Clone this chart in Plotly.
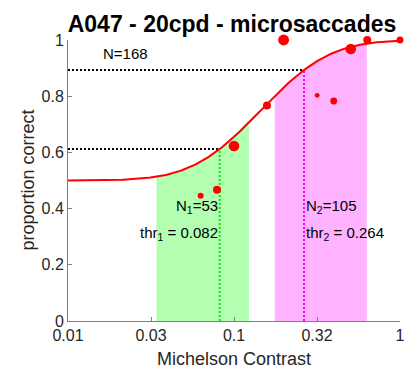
import math
import numpy as np
import plotly.graph_objects as go

# ---- data ----
contrast = [0.063, 0.079, 0.100, 0.158, 0.199, 0.317, 0.399, 0.505, 0.635, 1.0]
p_correct = [0.446, 0.467, 0.623, 0.767, 1.0, 0.803, 0.783, 0.968, 1.0, 1.0]
n_trials = [9, 16, 28, 16, 30, 6, 12, 28, 16, 12]

# fitted psychometric function (cumulative normal in log10 contrast, 2AFC)
fit_mu = -0.838
fit_sigma = 0.327

thresholds = [0.082, 0.264]
band1 = [0.0341, 0.123]
band2 = [0.176, 0.631]

title_text = "A047 - 20cpd - microsaccades"
xtick_vals = [0.01, 10 ** -1.5, 0.1, 10 ** -0.5, 1.0]
xtick_text = ["0.01", "0.03", "0.1", "0.32", "1"]
ytick_vals = [0, 0.2, 0.4, 0.6, 0.8, 1.0]
ytick_text = ["0", "0.2", "0.4", "0.6", "0.8", "1"]


def psy(x):
    z = (math.log10(x) - fit_mu) / fit_sigma
    return 0.5 + 0.5 * 0.5 * (1 + math.erf(z / math.sqrt(2)))


FONT = "Liberation Sans, Arial, sans-serif"

fig = go.Figure()


def band(lo, hi, color):
    xs = list(np.logspace(math.log10(lo), math.log10(hi), 60))
    ys = [psy(v) for v in xs]
    fig.add_trace(go.Scatter(
        x=xs + [hi, lo], y=ys + [0, 0], mode="lines", fill="toself",
        fillcolor=color, line=dict(width=0), hoverinfo="skip",
        showlegend=False))


band(band1[0], band1[1], "rgba(0,255,0,0.3)")
band(band2[0], band2[1], "rgba(255,0,255,0.3)")

# threshold guide lines
for thr, col in zip(thresholds, ["#00ee00", "#ff00ff"]):
    yv = psy(thr)
    fig.add_trace(go.Scatter(x=[0.01, thr], y=[yv, yv], mode="lines",
                             line=dict(color="black", width=2, dash="2px,2px"),
                             showlegend=False, hoverinfo="skip"))
    fig.add_trace(go.Scatter(x=[thr, thr], y=[0, yv], mode="lines",
                             line=dict(color=col, width=2, dash="2px,2px"),
                             showlegend=False, hoverinfo="skip"))

# fitted curve
xc = list(np.logspace(-2, 0, 300))
fig.add_trace(go.Scatter(x=xc, y=[psy(v) for v in xc], mode="lines",
                         line=dict(color="#ff0000", width=2),
                         showlegend=False, cliponaxis=False))

# data points
fig.add_trace(go.Scatter(
    x=contrast, y=p_correct, mode="markers",
    marker=dict(color="#ff0000", opacity=1,
                size=[2 * math.sqrt(n) for n in n_trials],
                line=dict(width=0)),
    showlegend=False, cliponaxis=False))

txt = dict(family=FONT, size=15, color="black")
ann = [
    dict(x=math.log10(0.0158), y=0.951, text="N=168", xanchor="left",
         yanchor="middle", showarrow=False, font=txt),
    dict(x=math.log10(thresholds[0]), y=0.407, text="N<sub>1</sub>=53",
         xanchor="right", yanchor="middle", showarrow=False, font=txt),
    dict(x=math.log10(thresholds[0]), y=0.311,
         text="thr<sub>1</sub> = 0.082", xanchor="right", yanchor="middle",
         showarrow=False, font=txt),
    dict(x=math.log10(thresholds[1]), y=0.407, text="N<sub>2</sub>=105",
         xanchor="left", yanchor="middle", showarrow=False, font=txt),
    dict(x=math.log10(thresholds[1]), y=0.311,
         text="thr<sub>2</sub> = 0.264", xanchor="left", yanchor="middle",
         showarrow=False, font=txt),
    dict(xref="paper", yref="paper", x=0.5, y=0, yshift=-38,
         text="Michelson Contrast", xanchor="center", yanchor="middle",
         showarrow=False, font=dict(family=FONT, size=18, color="#262626")),
    dict(xref="paper", yref="paper", x=0, y=0.5, xshift=-41,
         text="proportion correct", textangle=-90, xanchor="center",
         yanchor="middle", showarrow=False,
         font=dict(family=FONT, size=18, color="#262626")),
]

fig.update_layout(
    width=414, height=371,
    margin=dict(l=68, r=9, t=40, b=50),
    paper_bgcolor="white", plot_bgcolor="white",
    title=dict(text="<b>" + title_text + "</b>", x=232 / 414, xanchor="center",
               y=1 - 24 / 371, yanchor="middle", yref="container",
               font=dict(family=FONT, size=23, color="black")),
    annotations=ann,
    showlegend=False,
)
fig.update_xaxes(type="log", range=[-2, 0], tickvals=xtick_vals,
                 ticktext=xtick_text, ticks="inside", ticklen=4,
                 tickcolor="#808080", showline=True, linecolor="#808080",
                 linewidth=1, showgrid=False, zeroline=False,
                 tickfont=dict(family=FONT, size=16, color="#262626"))
fig.update_yaxes(range=[0, 1], tickvals=ytick_vals, ticktext=ytick_text,
                 ticks="inside", ticklen=4, tickcolor="#808080",
                 showline=True, linecolor="#808080", linewidth=1,
                 showgrid=False, zeroline=False,
                 tickfont=dict(family=FONT, size=16, color="#262626"))

fig.write_html("out.html",
               config={"displayModeBar": False},
               post_script="document.body.style.margin='0';"
                           "document.body.style.padding='0';")
